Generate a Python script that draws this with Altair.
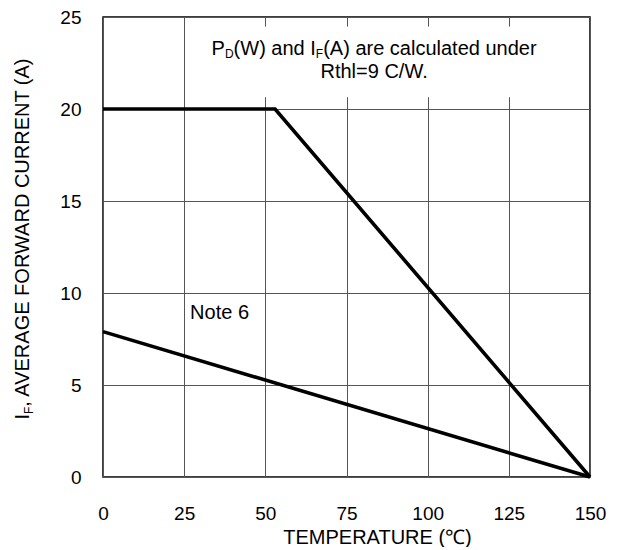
import altair as alt
import pandas as pd

# ---- data ----
temp_main = [0, 53, 150]
if_main = [20, 20, 0]
temp_note = [0, 150]
if_note = [7.9, 0]
x_ticks = [0, 25, 50, 75, 100, 125, 150]
y_ticks = [0, 5, 10, 15, 20, 25]
note_label = "Note 6"
note_pos = (35.9, 8.59)
ann_line1 = [("P", False), ("D", True), ("(W) and I", False), ("F", True), ("(A) are calculated under", False)]
ann_line2 = "Rthl=9 C/W."
ann_center_x = 83.5
ann_line1_y = 22.93
ann_line2_y = 21.68
y_title = [("I", False), ("F", True), (", AVERAGE FORWARD CURRENT (A)", False)]
x_title = "TEMPERATURE (℃)"

FONT = "Liberation Sans"
FS = 20
SUB_FS = 12
TICK_FS = 19
PW, PH = 487, 460

# Arial / Liberation Sans advance widths (1/1000 em)
AW = {" ": 278, "(": 333, ")": 333, ",": 278, ".": 278, "/": 278, "=": 584,
      "A": 667, "C": 722, "D": 722, "E": 667, "F": 611, "G": 778, "I": 278,
      "M": 833, "N": 722, "O": 778, "P": 667, "R": 722, "T": 611, "U": 722,
      "V": 667, "W": 944, "a": 556, "c": 500, "d": 556, "e": 556, "h": 556,
      "l": 222, "n": 556, "o": 556, "r": 333, "t": 278, "u": 556}
for dgt in "0123456789":
    AW[dgt] = 556


def tw(s, fs):
    return sum(AW.get(c, 556) for c in s) * fs / 1000.0


xs = alt.Scale(domain=[0, 150], nice=False, zero=False)
ys = alt.Scale(domain=[0, 25], nice=False, zero=False)

X_AXIS = alt.Axis(values=x_ticks, grid=True, gridColor="#555", gridWidth=1, gridOpacity=1,
                  domain=False, ticks=False, labelPadding=27, labelFlush=False,
                  labelFontSize=TICK_FS, labelFont=FONT, labelColor="black",
                  title=x_title, titleFont=FONT, titleFontSize=FS,
                  titleFontWeight="normal", titleColor="black",
                  titleX=274, titleY=66, titleBaseline="alphabetic",
                  titleAlign="center", titleAnchor="middle")
Y_AXIS = alt.Axis(values=y_ticks, grid=True, gridColor="#555", gridWidth=1, gridOpacity=1,
                  domain=False, ticks=False, labelPadding=22, labelFlush=False,
                  labelFontSize=TICK_FS, labelFont=FONT, labelColor="black",
                  title="")


def X(field="temp"):
    return alt.X(field + ":Q", scale=xs, axis=X_AXIS)


def Y(field="cur"):
    return alt.Y(field + ":Q", scale=ys, axis=Y_AXIS)


curves = pd.DataFrame({
    "temp": temp_main + temp_note,
    "cur": if_main + if_note,
    "series": ["main"] * len(temp_main) + ["note"] * len(temp_note),
})

lines = alt.Chart(curves).mark_line(color="black", strokeWidth=3.6).encode(
    x=X(), y=Y(), detail="series:N")

# white box behind the annotation (interrupts the grid lines as in the reference)
box = alt.Chart(pd.DataFrame({"temp": [30], "temp2": [140], "cur": [20.64], "cur2": [24.49]})).mark_rect(
    color="white").encode(x=X(), x2="temp2:Q", y=Y(), y2="cur2:Q")


def seg_layers(segs, cx, cy):
    widths = [tw(s, SUB_FS if sub else FS) for s, sub in segs]
    total = sum(widths)
    off = -total / 2.0
    out = []
    for (s, sub), w in zip(segs, widths):
        df = pd.DataFrame({"temp": [cx], "cur": [cy], "t": [s]})
        out.append(alt.Chart(df).mark_text(
            align="left", baseline="alphabetic", dx=off, dy=3 if sub else 0,
            fontSize=SUB_FS if sub else FS, font=FONT, color="black").encode(
            x=X(), y=Y(), text="t:N"))
        off += w
    return out


line1 = seg_layers(ann_line1, ann_center_x, ann_line1_y)
line2 = alt.Chart(pd.DataFrame({"temp": [ann_center_x], "cur": [ann_line2_y], "t": [ann_line2]})).mark_text(
    align="center", baseline="alphabetic", fontSize=FS, font=FONT, color="black").encode(
    x=X(), y=Y(), text="t:N")

note = alt.Chart(pd.DataFrame({"temp": [note_pos[0]], "cur": [note_pos[1]], "t": [note_label]})).mark_text(
    align="center", baseline="alphabetic", fontSize=FS, font=FONT, color="black").encode(
    x=X(), y=Y(), text="t:N")

# rotated y-axis title with subscript, built from segments
yt_layers = []
ywidths = [tw(s, SUB_FS if sub else FS) for s, sub in y_title]
ytotal = sum(ywidths)
ystart = 220 + ytotal / 2.0
cum = 0.0
for (s, sub), w in zip(y_title, ywidths):
    yt_layers.append(alt.Chart(pd.DataFrame({"t": [s]})).mark_text(
        align="left", baseline="alphabetic", angle=270,
        fontSize=SUB_FS if sub else FS, font=FONT, color="black").encode(
        x=alt.value(-74.2 + (4 if sub else 0)), y=alt.value(ystart - cum), text="t:N"))
    cum += w

chart = alt.layer(box, lines, *line1, line2, note, *yt_layers).properties(
    width=PW, height=PH,
    autosize=alt.AutoSizeParams(type="none"),
    padding={"left": 95, "top": 9, "right": 25, "bottom": 70},
    background="white",
).configure_view(stroke="black", strokeWidth=1.5)

chart.save("out.html", embed_options={"renderer": "svg", "actions": False})
